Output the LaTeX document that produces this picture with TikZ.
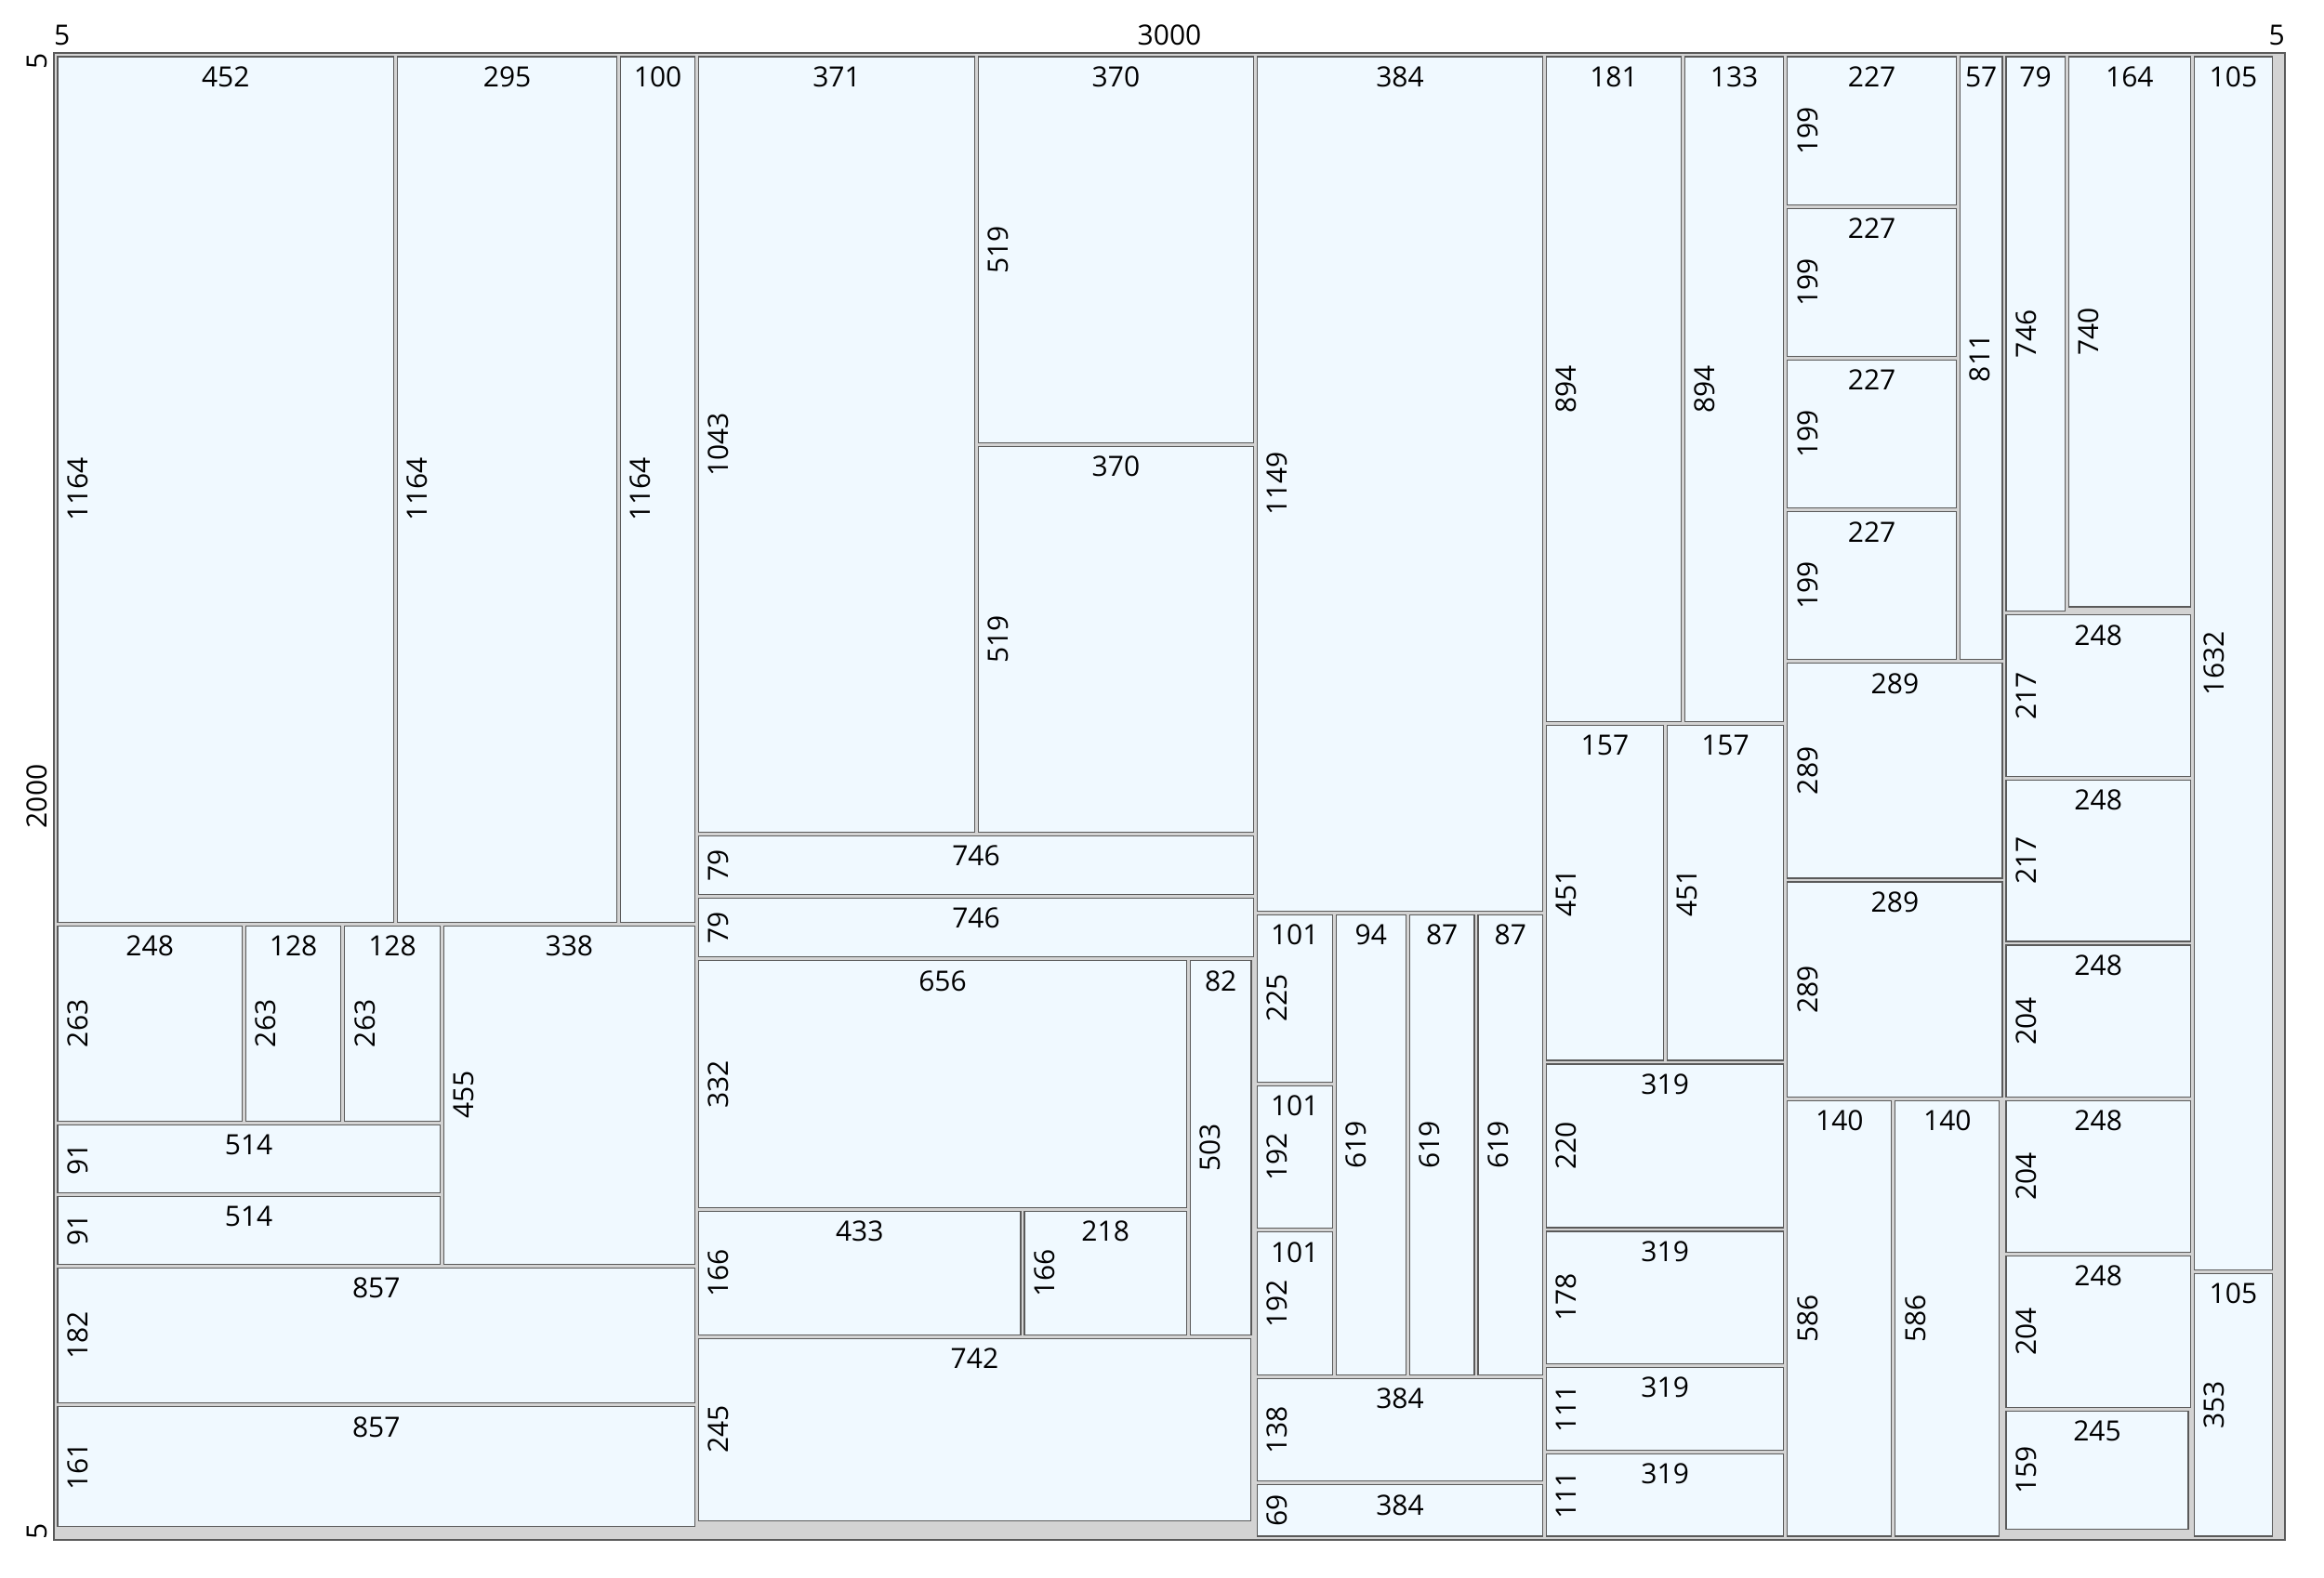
\documentclass[tikz,border=0pt]{standalone}
\usepackage{fontspec}
\setmainfont{Open Sans}
\definecolor{sheetgray}{HTML}{D3D3D3}
\definecolor{piecefill}{HTML}{F0F9FF}
\definecolor{edge}{HTML}{5A5A5A}
\tikzset{
  sheetbox/.style={fill=sheetgray,draw=edge,line width=1.3pt},
  piecebox/.style={fill=piecefill,draw=edge,line width=1.2pt},
  lbl/.style={inner sep=0pt,font=\fontsize{30}{30}\selectfont,text=black},
  dimlbl/.style={inner sep=0pt,font=\fontsize{30}{30}\selectfont,text=black}
}
\newcommand\pc[4]{%
  \draw[piecebox] (#1,#2) rectangle ++(#3,#4);
  \node[lbl] at ({#1+#3/2},{#2+27}) {#3};
  \node[lbl,rotate=90] at ({#1+27},{#2+#4/2}) {#4};
}
\begin{document}
\begin{tikzpicture}[x=0.8pt,y=-0.8pt]
\useasboundingbox (-72.5,-71.25) rectangle (3052.5,2051.25);
% sheet
\draw[sheetbox] (0,0) rectangle (3000,2000);
% dimension labels
\node[dimlbl,anchor=base west] (t5l) at (0,-10) {5};
\node[dimlbl,anchor=base] (t3000) at (1500,-10) {3000};
\node[dimlbl,anchor=base east] (t5r) at (3000,-10) {5};
\node[dimlbl,rotate=90,anchor=base east] (l5t) at (-9,0) {5};
\node[dimlbl,rotate=90,anchor=base] (l2000) at (-9,1000) {2000};
\node[dimlbl,rotate=90,anchor=base west] (l5b) at (-9,2000) {5};
% column 1
\pc{5}{5}{452}{1164}
\pc{462}{5}{295}{1164}
\pc{762}{5}{100}{1164}
\pc{5}{1174}{248}{263}
\pc{258}{1174}{128}{263}
\pc{391}{1174}{128}{263}
\pc{524}{1174}{338}{455}
\pc{5}{1442}{514}{91}
\pc{5}{1538}{514}{91}
\pc{5}{1634}{857}{182}
\pc{5}{1821}{857}{161}
% column 2
\pc{867}{5}{371}{1043}
\pc{1243}{5}{370}{519}
\pc{1243}{529}{370}{519}
\pc{867}{1053}{746}{79}
\pc{867}{1137}{746}{79}
\pc{867}{1221}{656}{332}
\pc{1528}{1221}{82}{503}
\pc{867}{1558}{433}{166}
\pc{1305}{1558}{218}{166}
\pc{867}{1729}{742}{245}
% column 3
\pc{1618}{5}{384}{1149}
\pc{1618}{1159}{101}{225}
\pc{1618}{1389}{101}{192}
\pc{1618}{1586}{101}{192}
\pc{1724}{1159}{94}{619}
\pc{1823}{1159}{87}{619}
\pc{1915}{1159}{87}{619}
\pc{1618}{1783}{384}{138}
\pc{1618}{1926}{384}{69}
% column 4
\pc{2007}{5}{181}{894}
\pc{2193}{5}{133}{894}
\pc{2007}{904}{157}{451}
\pc{2169}{904}{157}{451}
\pc{2007}{1360}{319}{220}
\pc{2007}{1585}{319}{178}
\pc{2007}{1768}{319}{111}
\pc{2007}{1884}{319}{111}
% column 5
\pc{2331}{5}{227}{199}
\pc{2331}{209}{227}{199}
\pc{2331}{413}{227}{199}
\pc{2331}{617}{227}{199}
\pc{2563}{5}{57}{811}
\pc{2331}{821}{289}{289}
\pc{2331}{1115}{289}{289}
\pc{2331}{1409}{140}{586}
\pc{2476}{1409}{140}{586}
% column 6
\pc{2625}{5}{79}{746}
\pc{2709}{5}{164}{740}
\pc{2625}{756}{248}{217}
\pc{2625}{978}{248}{217}
\pc{2625}{1200}{248}{204}
\pc{2625}{1409}{248}{204}
\pc{2625}{1618}{248}{204}
\pc{2625}{1827}{245}{159}
% column 7
\pc{2878}{5}{105}{1632}
\pc{2878}{1642}{105}{353}
\end{tikzpicture}
\end{document}
